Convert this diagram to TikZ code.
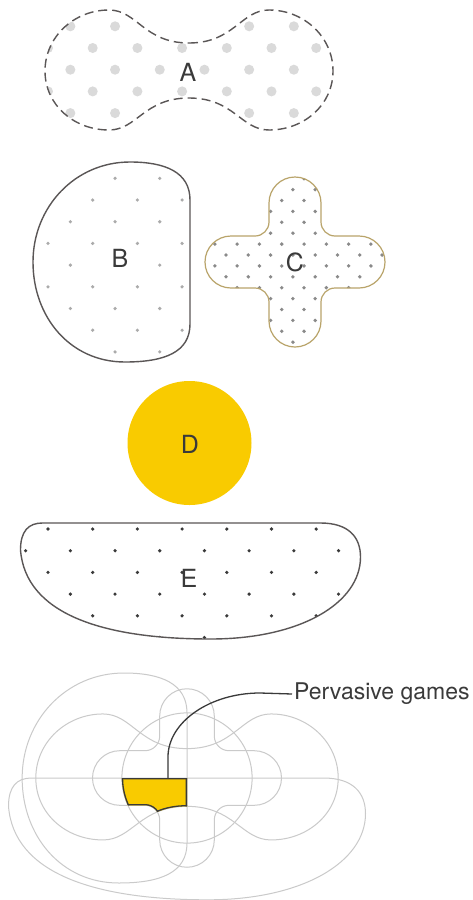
\documentclass[tikz,border=0pt]{standalone}
\usepackage{fontspec}
\setmainfont{TeX Gyre Heros}
\usepackage{tikz}
\definecolor{Gold}{HTML}{F9CB00}
\definecolor{Ink}{HTML}{3A3A3A}
\definecolor{Edge}{HTML}{5A5656}
\definecolor{Tan}{HTML}{B9A46A}
\definecolor{Faint}{HTML}{CACACA}
\definecolor{DotA}{HTML}{DADADA}
\definecolor{DotB}{HTML}{ABABAB}
\definecolor{DotC}{HTML}{8A8A8A}

% the five outlines, each drawn round its own origin
\newcommand{\outlineA}{(0,-28) .. controls (45,-28) and (52,-61) .. (80,-61) .. controls (115,-61) and (144,-34) .. (144,0) .. controls (144,34) and (115,59) .. (80,59) .. controls (52,59) and (45,27) .. (0,27) .. controls (-45,27) and (-52,59) .. (-80,59) .. controls (-115,59) and (-144,34) .. (-144,0) .. controls (-144,-34) and (-115,-61) .. (-80,-61) .. controls (-52,-61) and (-45,-28) .. (0,-28) -- cycle}
\newcommand{\outlineB}{(0,-62) .. controls (0,-90) and (-25,-100) .. (-60,-100) .. controls (-115,-100) and (-157,-55) .. (-157,0) .. controls (-157,55) and (-120,100) .. (-65,100) .. controls (-25,100) and (0,90) .. (0,62) -- cycle}
\newcommand{\outlineC}{(-26,-59) arc[start angle=180, end angle=360, radius=26] -- (26,-40) arc[start angle=180, end angle=90, radius=14] -- (64,-26) arc[start angle=270, end angle=450, radius=26] -- (40,26) arc[start angle=270, end angle=180, radius=14] -- (26,59) arc[start angle=0, end angle=180, radius=26] -- (-26,40) arc[start angle=0, end angle=-90, radius=14] -- (-64,26) arc[start angle=90, end angle=270, radius=26] -- (-40,-26) arc[start angle=90, end angle=0, radius=14] -- cycle}
\newcommand{\outlineD}{(0,0) circle[radius=62]}
\newcommand{\outlineE}{(-148,0) -- (130,0) .. controls (158,0) and (170,14) .. (170,34) .. controls (170,80) and (110,116) .. (20,116) .. controls (-90,116) and (-165,90) .. (-170,27) .. controls (-170,8) and (-162,0) .. (-148,0) -- cycle}

\begin{document}
\begin{tikzpicture}[
    x=1pt,y=-1pt,
    lbl/.style={font=\fontsize{25}{30}\selectfont,text=Ink,inner sep=1pt},
    edgeline/.style={draw=Edge,line width=1.4pt},
    faint/.style={draw=Faint,line width=1pt},
    leader/.style={draw=Ink,line width=1.3pt}
]
\useasboundingbox[fill=white] (0,0) rectangle (472,900);

% A
\begin{scope}
\clip[shift={(189,71)}] \outlineA;
\foreach \j in {0,...,7}
  \foreach \i in {0,...,9}
    \fill[DotA] ({48+44.7*(\i-1)+22.35*mod(\j,2)},{48+21.7*(\j-2)}) circle[radius=5];
\end{scope}
\draw[draw=Edge,line width=1.4pt,dash pattern=on 9pt off 5pt,shift={(189,71)}] \outlineA;
\node[lbl] (labA) at (188,72) {A};

% B
\begin{scope}
\clip[shift={(190,262)}] \outlineB;
\foreach \j in {0,...,12}
  \foreach \i in {0,...,6}
    \fill[DotB] ({48+44.7*(\i-1)+22.35*mod(\j,2)},{200+21.7*(\j-2)}) circle[radius=1.8];
\end{scope}
\draw[edgeline,shift={(190,262)}] \outlineB;
\node[lbl] (labB) at (120,258) {B};

% C
\begin{scope}
\clip[shift={(295,262)}] \outlineC;
\foreach \j in {0,...,18}
  \foreach \i in {0,...,10}
    \fill[DotC] ({214.85+22.3*(\i-1)+11.15*mod(\j,2)},{255+10.9*(\j-9)}) circle[radius=1.9];
\end{scope}
\draw[draw=Tan,line width=1.2pt,shift={(295,262)}] \outlineC;
\node[lbl] (labC) at (295,262) {C};

% D
\fill[Gold,shift={(189.5,443)}] \outlineD;
\node[lbl] (labD) at (190,444) {D};

% E
\begin{scope}
\clip[shift={(190.5,523)}] \outlineE;
\foreach \j in {0,...,8}
  \foreach \i in {0,...,9}
    \fill[Ink] ({48+44.7*(\i-1)+22.35*(1-mod(\j,2))},{529+21.7*(\j-1)}) circle[radius=1.8];
\end{scope}
\draw[edgeline,shift={(190.5,523)}] \outlineE;
\node[lbl] (labE) at (189,578) {E};

% all five laid over one another
\begin{scope}[shift={(187,778)},scale=1.05]
\draw[faint] \outlineA;
\draw[faint] \outlineB;
\draw[faint] \outlineC;
\draw[faint] \outlineD;
\draw[faint] \outlineE;
\begin{scope}
\clip \outlineA; \clip \outlineB; \clip \outlineC; \clip \outlineD; \clip \outlineE;
\fill[Gold] (-200,-200) rectangle (200,200);
\draw[Ink,line width=2.6pt] \outlineA;
\draw[Ink,line width=2.6pt] \outlineB;
\draw[Ink,line width=2.6pt] \outlineC;
\draw[Ink,line width=2.6pt] \outlineD;
\draw[Ink,line width=2.6pt] \outlineE;
\end{scope}
\end{scope}

\coordinate (pgtop) at (168,778);
\node[lbl,font=\fontsize{23}{28}\selectfont,anchor=west,inner sep=2pt] (pglabel) at (292,694) {Pervasive games};
\draw[leader] (pgtop) -- (168,757) .. controls (168,722) and (210,693) .. (260,693) -- (pglabel.west);
\end{tikzpicture}
\end{document}
